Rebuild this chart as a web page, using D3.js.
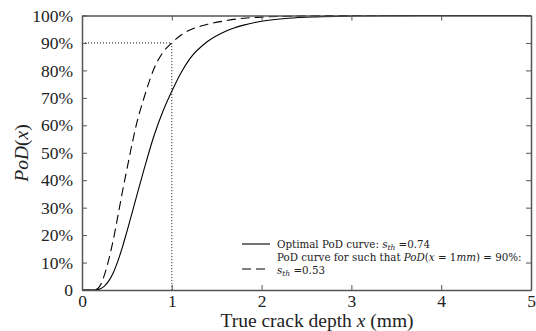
<!DOCTYPE html>
<html><head><meta charset="utf-8">
<script src="https://cdn.jsdelivr.net/npm/d3@7"></script>
<style>body{margin:0;background:#fff}svg{display:block}text{fill:#222;font-family:"Liberation Serif",serif !important}.lg text{font-family:"DejaVu Serif",serif !important}</style>
</head><body>
<svg id="c" width="536" height="331"></svg>
<script>
const xValues = [0, 0.1, 0.15, 0.2, 0.25, 0.3, 0.35, 0.4, 0.45, 0.5, 0.55, 0.6, 0.7, 0.8, 0.9, 1.0, 1.1, 1.2, 1.4, 1.6, 1.8, 2.0, 2.3, 2.6, 3.0, 3.5, 4.0, 5.0];
const optimalPoD = [0, 0, 0.05, 0.4, 1.4, 3.4, 6.4, 10.6, 15.6, 21.3, 27.2, 33.2, 45, 56, 65, 72.4, 79, 84.2, 90.6, 94.3, 96.5, 97.9, 99, 99.5, 99.8, 99.95, 100, 100];
const dashedPoD = [0, 0, 0.1, 1.5, 5.5, 11.3, 18.5, 27, 35.8, 44, 52, 59.5, 71, 80.5, 86.5, 90, 92.8, 94.7, 96.8, 98.1, 99, 99.4, 99.75, 99.9, 100, 100, 100, 100];
const xTicks = [0, 1, 2, 3, 4, 5];
const yTicks = [0, 10, 20, 30, 40, 50, 60, 70, 80, 90, 100];
const yTickLabels = ["0", "10%", "20%", "30%", "40%", "50%", "60%", "70%", "80%", "90%", "100%"];
const refX = 1, refY = 90;

const svg = d3.select("#c");
const L = 82, R = 531, T = 15.5, B = 290;
const x = d3.scaleLinear().domain([0, 5]).range([L, R]);
const y = d3.scaleLinear().domain([0, 100]).range([B, T]);
const axisColor = "#555";

// reference dotted lines
svg.append("path")
  .attr("d", `M${x(0)},${y(refY)}H${x(refX)}V${y(0)}`)
  .attr("fill", "none").attr("stroke", "#111").attr("stroke-width", 1)
  .attr("stroke-dasharray", "1,2");

const line = d3.line().x(d => x(d[0])).y(d => y(d[1])).curve(d3.curveMonotoneX);
svg.append("path").datum(xValues.map((v, i) => [v, optimalPoD[i]]))
  .attr("d", line).attr("fill", "none").attr("stroke", "#000").attr("stroke-width", 1.1);
svg.append("path").datum(xValues.map((v, i) => [v, dashedPoD[i]]))
  .attr("d", line).attr("fill", "none").attr("stroke", "#000").attr("stroke-width", 1.1)
  .attr("stroke-dasharray", "9,5");

// axes (ticks inward)
const axB = svg.append("g").attr("transform", `translate(0,${B})`)
  .call(d3.axisBottom(x).tickValues(xTicks).tickSizeInner(-5).tickSizeOuter(0).tickPadding(5).tickFormat(d3.format("d")));
const axT = svg.append("g").attr("transform", `translate(0,${T})`)
  .call(d3.axisTop(x).tickValues(xTicks).tickSizeInner(-5).tickSizeOuter(0).tickFormat(""));
const axL = svg.append("g").attr("transform", `translate(${L},0)`)
  .call(d3.axisLeft(y).tickValues(yTicks).tickSizeInner(-5).tickSizeOuter(0).tickPadding(9).tickFormat((d, i) => yTickLabels[i]));
const axR = svg.append("g").attr("transform", `translate(${R},0)`)
  .call(d3.axisRight(y).tickValues(yTicks).tickSizeInner(-5).tickSizeOuter(0).tickFormat(""));
[axB, axT, axL, axR].forEach(a => {
  a.attr("font-family", null);
  a.select(".domain").attr("stroke", axisColor).attr("stroke-width", 1.5);
  a.selectAll(".tick line").attr("stroke", axisColor).attr("stroke-width", 1);
  a.selectAll("text").attr("font-size", 17.5).attr("fill", "#222");
});
axB.selectAll("text").attr("dy", "0.71em");

// axis labels
svg.append("text").attr("x", 317).attr("y", 327).attr("text-anchor", "middle").attr("font-size", 19.5)
  .html('True crack depth <tspan font-style="italic">x</tspan> (mm)');
svg.append("text").attr("transform", "translate(28,153) rotate(-90)").attr("text-anchor", "middle").attr("font-size", 19.5)
  .html('<tspan font-style="italic">PoD</tspan>(<tspan font-style="italic">x</tspan>)');

// legend
const lg = svg.append("g").attr("class", "lg");
lg.append("line").attr("x1", 242).attr("x2", 270).attr("y1", 244).attr("y2", 244).attr("stroke", "#000").attr("stroke-width", 1.1);
lg.append("line").attr("x1", 242).attr("x2", 270).attr("y1", 269).attr("y2", 269).attr("stroke", "#000").attr("stroke-width", 1.1).attr("stroke-dasharray", "9,5");
lg.append("text").attr("x", 277).attr("y", 248).attr("font-size", 10.3)
  .html('Optimal PoD curve: <tspan font-style="italic">s</tspan><tspan font-style="italic" font-size="7.5" dy="2">th</tspan><tspan dy="-2"> =0.74</tspan>');
lg.append("text").attr("x", 277).attr("y", 261).attr("font-size", 10.3)
  .html('PoD curve for such that <tspan font-style="italic">PoD</tspan>(<tspan font-style="italic">x</tspan> = 1<tspan font-style="italic">mm</tspan>) = 90%:');
lg.append("text").attr("x", 277).attr("y", 274).attr("font-size", 10.3)
  .html('<tspan font-style="italic">s</tspan><tspan font-style="italic" font-size="7.5" dy="2">th</tspan><tspan dy="-2"> =0.53</tspan>');
</script>
</body></html>
